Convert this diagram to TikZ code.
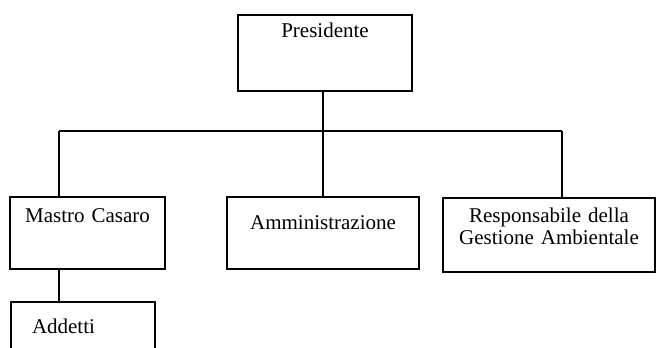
\documentclass[tikz,border=0pt]{standalone}
\usepackage{fontspec}
\setmainfont{Liberation Serif}
\usepackage{tikz}

\begin{document}
\begin{tikzpicture}[x=0.5pt,y=-0.5pt]
  \tikzset{BoxStyle/.style = {
    shape         = rectangle,
    draw          = black,
    fill          = white,
    line width    = 1.15pt,
    text          = black,
    inner sep     = 0pt,
    outer sep     = 0pt,
    align         = center,
    anchor        = north west,
    font          = \fontsize{10.5}{11}\selectfont
    }
  }
  \tikzset{EdgeStyle/.style = {
    draw          = black,
    line width    = 1.15pt
    }
  }
  \useasboundingbox (0,0) rectangle (656,347);
  \clip (0,0) rectangle (656,347);

	\node[BoxStyle, text width=87pt, text height=11.5pt, text depth=26.5pt](Pres) at (238,15) {Presidente};
	\node[BoxStyle, text width=77.5pt, text height=12.5pt, text depth=23.5pt](Mastro) at (10,197) {Mastro Casaro};
	\node[BoxStyle, text width=96pt, text height=16pt, text depth=20pt](Amm) at (227,197) {Amministrazione};
	\node[BoxStyle, text width=106pt, text height=12pt, text depth=25pt](Resp) at (443,198) {Responsabile della\\Gestione Ambientale};
	\node[BoxStyle, align=left, inner xsep=10.5pt, text width=51pt, text height=15.5pt, text depth=30pt](Add) at (11,302) {Addetti};
	\coordinate (BusL) at (59,131);
	\coordinate (BusR) at (562,131);
	\draw[EdgeStyle](Pres.south -| Amm.north) to (Amm.north);
	\draw[EdgeStyle](BusL) to (BusR);
	\draw[EdgeStyle](BusL) to (BusL |- Mastro.north);
	\draw[EdgeStyle](BusR) to (BusR |- Resp.north);
	\draw[EdgeStyle](BusL |- Mastro.south) to (BusL |- Add.north);

\end{tikzpicture}
\end{document}
